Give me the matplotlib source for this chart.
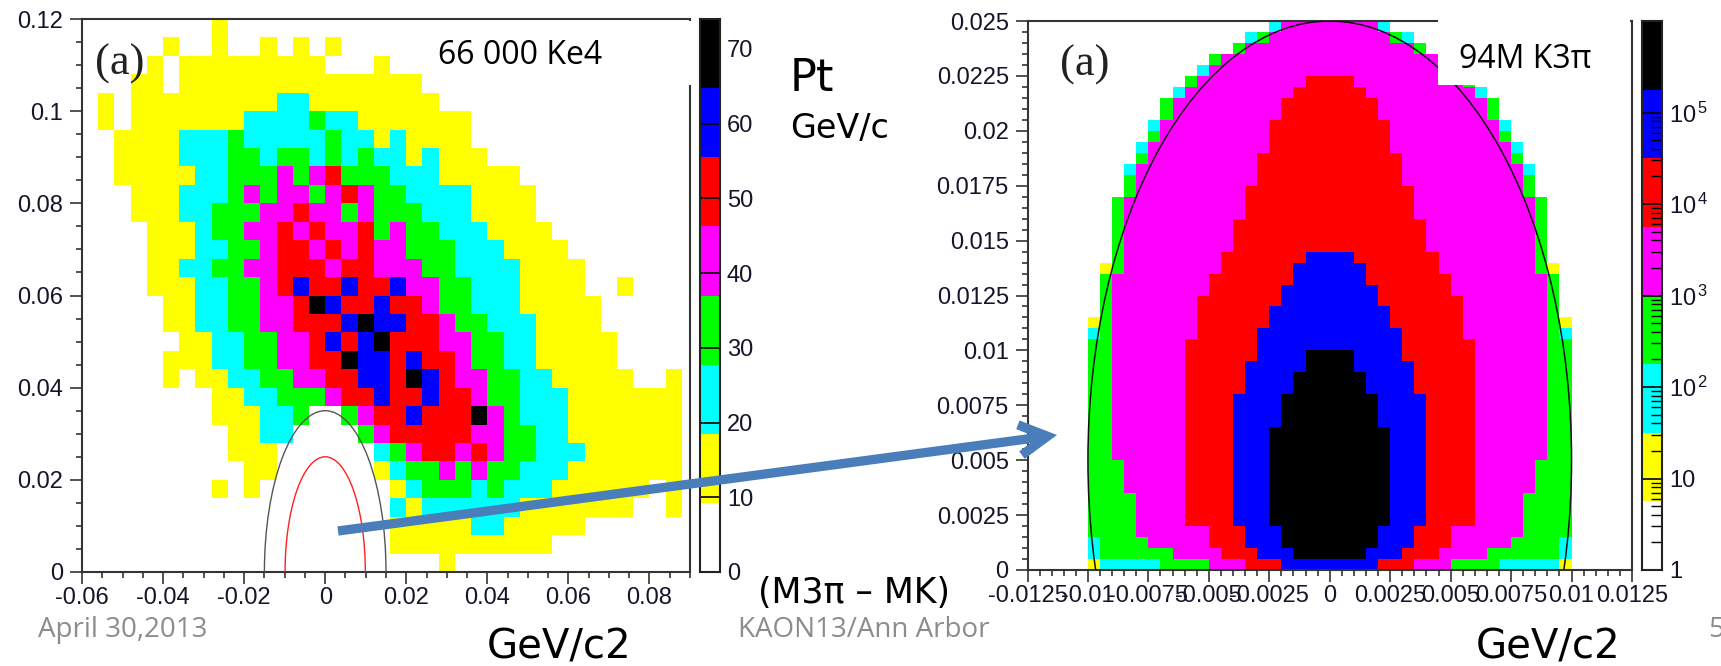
import numpy as np
import matplotlib
matplotlib.use('Agg')
import matplotlib.pyplot as plt
from matplotlib.colors import ListedColormap, BoundaryNorm
from matplotlib.patches import Ellipse, Rectangle, FancyArrowPatch
from matplotlib.ticker import MultipleLocator, FixedLocator, NullFormatter, LogLocator

plt.rcParams['font.family'] = ['Liberation Sans', 'DejaVu Sans']
plt.rcParams['mathtext.fontset'] = 'custom'
plt.rcParams['mathtext.rm'] = 'Liberation Sans'
plt.rcParams['mathtext.it'] = 'Liberation Sans:italic'

W, H = 1721, 666

# ROOT-like 8 level palette
level_colors = ['#ffffff', '#ffff00', '#00ffff', '#00ff00',
                '#ff00ff', '#ff0000', '#0000ff', '#000000']

# ---------------- Left histogram: 66 000 Ke4 (levels per 0.004 x 0.004 cell) -------------
left_x_start = -0.06
left_y_start = 0.0
left_cell = 0.004
left_ncols = 38
left_nrows = 30
# rows from top (y = 0.116-0.12) to bottom (y = 0-0.004): (first column, level string)
left_rows = [
    (8, "1"),
    (5, "1..1..1.1.1"),
    (4, "1.111111111...1"),
    (3, "11.111111111111111"),
    (1, "1.1111111112211111111"),
    (1, "1.111111122223221111111"),
    (2, "1111222322222322121111"),
    (2, "11112223323323232212111"),
    (2, "1111122333434533322211111"),
    (3, "1112223434434543322221111"),
    (3, "1112233344544343332221111"),
    (4, "1112334454544534332221111"),
    (4, "11122334554545443332221111"),
    (4, "112233445554554443322221111"),
    (4, "111223345655655644332221111..1"),
    (5, "112233445765565543322211111"),
    (5, "112233445556766554332221111"),
    (6, "112233445656755544332211111"),
    (5, "1112233445576656554332211111"),
    (5, "1.112233445566576544332211111..1"),
    (8, "11223334556556554332221111111"),
    (8, "111223..345565557432221111111"),
    (9, "1122....34555554433221111111"),
    (9, "111......2345545433222111111"),
    (10, "11......1233434332221111111"),
    (8, "1.1........1233323222111111.1"),
    (19, "212222221111111..1"),
    (19, "111112211111"),
    (19, "1111111111"),
    (22, "1"),
]
left_step = 9.25
left_bounds = [0, 9.25, 18.5, 27.75, 37.0, 46.25, 55.5, 64.75, 74.0]
left_cbar_ticks = [0, 10, 20, 30, 40, 50, 60, 70]
left_xticks = [-0.06, -0.04, -0.02, 0, 0.02, 0.04, 0.06, 0.08]
left_xlabels = ['-0.06', '-0.04', '-0.02', '0', '0.02', '0.04', '0.06', '0.08']
left_yticks = [0, 0.02, 0.04, 0.06, 0.08, 0.1, 0.12]
left_ylabels = ['0', '0.02', '0.04', '0.06', '0.08', '0.1', '0.12']

# ---------------- Right histogram: 94M K3pi (half-widths in bins of each level, per row) ----
right_x_start = -0.01
right_cell = 0.0005
right_ncols = 40
right_nrows = 50
hw_yellow = [20,20,20,20,20,20,20,20,20,20, 20,20,20,20,20,20,20,20,20,20,
             20,20,20,19,19,19,19,19,18,18, 18,18,18,18,17,17,17,16,16,15,
             15,14,14,13,12,11,10,8,7,5]
hw_cyan = [19,20,20,20,20,20,20,20,20,20, 20,20,20,20,20,20,20,20,20,20,
           20,20,19,19,19,19,19,18,18,18, 18,18,18,18,17,17,17,16,16,15,
           15,14,14,13,12,11,10,8,7,5]
hw_green = [14,19,19,20,20,20,20,20,20,20, 20,20,20,20,20,20,20,20,20,20,
            20,19,19,19,19,19,19,18,18,18, 18,18,18,18,17,17,16,16,15,15,
            14,14,14,12,12,10,10,8,6,4]
hw_magenta = [10,13,15,16,16,16,16,17,17,17, 18,18,18,18,18,18,18,18,18,18,
              18,18,18,18,18,18,18,17,17,17, 17,17,17,17,16,16,16,15,15,14,
              14,13,13,12,11,10,9,7,5,4]
hw_red = [7,9,10,10,12,12,12,12,12,12, 12,12,12,12,12,12,12,12,12,12,
          12,11,11,11,11,10,10,9,9,8, 8,8,7,7,7,6,6,6,5,5,
          5,4,4,3,2,0,0,0,0,0]
hw_blue = [4,6,7,7,8,8,8,8,8,8, 8,8,8,8,8,8,7,7,7,6,
           6,6,5,5,4,4,3,3,2,0, 0,0,0,0,0,0,0,0,0,0,
           0,0,0,0,0,0,0,0,0,0]
hw_black = [0,3,4,4,5,5,5,5,5,5, 5,5,5,4,4,4,3,3,2,2,
            0,0,0,0,0,0,0,0,0,0, 0,0,0,0,0,0,0,0,0,0,
            0,0,0,0,0,0,0,0,0,0]
right_decades_per_level = 0.75
right_bounds = [1.0, 5.62, 31.6, 177.8, 1000.0, 5623.0, 31623.0, 177828.0, 1.0e6]
right_cbar_ticks = [1, 10, 100, 1000, 10000, 100000]
right_cbar_labels = ['1', '10', r'$10^{\,2}$', r'$10^{\,3}$', r'$10^{\,4}$', r'$10^{\,5}$']
right_xticks = [-0.0125, -0.01, -0.0075, -0.005, -0.0025, 0, 0.0025, 0.005, 0.0075, 0.01, 0.0125]
right_xlabels = ['-0.0125', '-0.01', '-0.0075', '-0.005', '-0.0025', '0',
                 '0.0025', '0.005', '0.0075', '0.01', '0.0125']
right_yticks = [0, 0.0025, 0.005, 0.0075, 0.01, 0.0125, 0.015, 0.0175, 0.02, 0.0225, 0.025]
right_ylabels = ['0', '0.0025', '0.005', '0.0075', '0.01', '0.0125', '0.015',
                 '0.0175', '0.02', '0.0225', '0.025']

# ---------------- build grids ----------------
left_vals = np.zeros((left_nrows, left_ncols))
for r, (c0, s) in enumerate(left_rows):
    for k, ch in enumerate(s):
        if ch != '.':
            left_vals[left_nrows - 1 - r, c0 + k] = (int(ch) + 0.5) * left_step
left_vals = np.ma.masked_equal(left_vals, 0)
xeL = left_x_start + left_cell * np.arange(left_ncols + 1)
yeL = left_y_start + left_cell * np.arange(left_nrows + 1)

right_lev = np.zeros((right_nrows, right_ncols), dtype=int)
half = right_ncols // 2
for lvl, hw in enumerate([hw_yellow, hw_cyan, hw_green, hw_magenta, hw_red, hw_blue, hw_black], start=1):
    for j, h in enumerate(hw):
        if h > 0:
            right_lev[j, half - h:half + h] = lvl
right_vals = np.ma.masked_equal(
    np.where(right_lev > 0, 10 ** (right_decades_per_level * (right_lev + 0.5)), 0.0), 0)
xeR = right_x_start + right_cell * np.arange(right_ncols + 1)
yeR = right_cell * np.arange(right_nrows + 1)

# ---------------- figure ----------------
fig = plt.figure(figsize=(W / 100, H / 100), dpi=100)

def rect(x0, y0, x1, y1):
    return [x0 / W, 1 - y1 / H, (x1 - x0) / W, (y1 - y0) / H]

def fpt(x, y):
    return (x / W, 1 - y / H)

axL = fig.add_axes(rect(82, 19, 690, 572))
caxL = fig.add_axes(rect(700, 19, 720, 572))
axR = fig.add_axes(rect(1027.5, 21, 1632, 570))
caxR = fig.add_axes(rect(1642, 21, 1662, 570))

cmap = ListedColormap(level_colors)
axL.pcolormesh(xeL, yeL, left_vals, cmap=cmap, norm=BoundaryNorm(left_bounds, cmap.N),
               shading='flat', antialiased=False)
axR.pcolormesh(xeR, yeR, right_vals, cmap=cmap, norm=BoundaryNorm(right_bounds, cmap.N),
               shading='flat', antialiased=False)

frame_col = '#333333'
lab_col = '#15152a'

def style_axes(ax):
    for s in ax.spines.values():
        s.set_color(frame_col)
        s.set_linewidth(1.5)
    ax.tick_params(which='both', direction='out', top=False, right=False,
                   color=frame_col, width=1.2)
    ax.tick_params(which='major', length=8.5, labelsize=17, labelcolor=lab_col)
    ax.tick_params(which='minor', length=4.3)
    ax.tick_params(axis='x', which='major', pad=2)
    ax.tick_params(axis='y', which='major', pad=5)

axL.set_xlim(-0.06, 0.09)
axL.set_ylim(0, 0.12)
axL.set_xticks(left_xticks)
axL.set_xticklabels(left_xlabels)
axL.set_yticks(left_yticks)
axL.set_yticklabels(left_ylabels)
axL.xaxis.set_minor_locator(MultipleLocator(0.005))
axL.yaxis.set_minor_locator(MultipleLocator(0.005))
style_axes(axL)

axR.set_xlim(-0.0125, 0.0125)
axR.set_ylim(0, 0.025)
axR.set_xticks(right_xticks)
axR.set_xticklabels(right_xlabels)
axR.set_yticks(right_yticks)
axR.set_yticklabels(right_ylabels)
axR.xaxis.set_minor_locator(MultipleLocator(0.0005))
axR.yaxis.set_minor_locator(MultipleLocator(0.0005))
style_axes(axR)

# kinematic boundary curves
axL.add_patch(Ellipse((0, 0), 0.030, 0.070, fill=False, ec='#555555', lw=1.0, zorder=3))
axL.add_patch(Ellipse((0, 0), 0.0198, 0.050, fill=False, ec='#ff2020', lw=1.0, zorder=3))
axR.add_patch(Ellipse((0, 0.005), 0.0200, 0.040, fill=False, ec='#111111', lw=1.1, zorder=3))

# colour palettes
for lo, hi, c in zip(left_bounds[:-1], left_bounds[1:], level_colors):
    caxL.axhspan(lo, hi, color=c, lw=0)
caxL.set_ylim(left_bounds[0], left_bounds[-1])
caxL.set_xlim(0, 1)
caxL.set_xticks([])
caxL.yaxis.tick_right()
caxL.set_yticks(left_cbar_ticks)
caxL.set_yticklabels([str(t) for t in left_cbar_ticks])
caxL.tick_params(axis='y', direction='in', length=14.4, width=1.2, color='black',
                 labelsize=17, labelcolor=lab_col, pad=5)

for lo, hi, c in zip(right_bounds[:-1], right_bounds[1:], level_colors):
    caxR.axhspan(lo, hi, color=c, lw=0)
caxR.set_yscale('log')
caxR.set_ylim(right_bounds[0], right_bounds[-1])
caxR.set_xlim(0, 1)
caxR.set_xticks([])
caxR.yaxis.tick_right()
caxR.yaxis.set_major_locator(FixedLocator(right_cbar_ticks))
caxR.set_yticklabels(right_cbar_labels)
caxR.yaxis.set_minor_locator(LogLocator(base=10, subs=np.arange(2, 10)))
caxR.yaxis.set_minor_formatter(NullFormatter())
caxR.tick_params(axis='y', which='major', direction='in', length=14.4, width=1.2,
                 color='black', labelsize=17, labelcolor=lab_col, pad=5)
caxR.tick_params(axis='y', which='minor', direction='in', length=8, width=1.0, color='black')

for cax in (caxL, caxR):
    for s in cax.spines.values():
        s.set_color('#222222')
        s.set_linewidth(1.5)

# white text boxes of the slide
fig.add_artist(Rectangle(fpt(430, 85), 267 / W, 64 / H, transform=fig.transFigure,
                         fc='white', ec='none', zorder=5))
fig.add_artist(Rectangle(fpt(1438, 85), 192 / W, 66 / H, transform=fig.transFigure,
                         fc='white', ec='none', zorder=5))

serif = ['Liberation Serif', 'DejaVu Serif']
calibri = ['Open Sans', 'DejaVu Sans']
hand = ['DejaVu Sans']

fig.text(*fpt(95, 75), '(a)', family=serif, fontsize=32, color='#222222', va='baseline', zorder=6)
fig.text(*fpt(1060, 76), '(a)', family=serif, fontsize=32, color='#222222', va='baseline', zorder=6)
fig.text(*fpt(438, 64), '66 000 Ke4', family=calibri, fontsize=23, color='black', va='baseline', zorder=6)
fig.text(*fpt(1459, 68), '94M K3π', family=calibri, fontsize=23, color='black', va='baseline', zorder=6)

fig.text(*fpt(790, 91), 'Pt', family=hand, fontsize=32, color='black', va='baseline', zorder=6)
fig.text(*fpt(790, 138), 'GeV/c', family=hand, fontsize=24, color='black', va='baseline', zorder=6)
fig.text(*fpt(758, 603), '(M3π – MK)', family=hand, fontsize=25, color='black', va='baseline', zorder=6)
fig.text(*fpt(487, 659), 'GeV/c2', family=hand, fontsize=29, color='black', va='baseline', zorder=6)
fig.text(*fpt(1476, 659), 'GeV/c2', family=hand, fontsize=29, color='black', va='baseline', zorder=6)

grey = '#8c8c8c'
fig.text(*fpt(38, 637), 'April 30,2013', family=calibri, fontsize=20, color=grey, va='baseline', zorder=6)
fig.text(*fpt(738, 637), 'KAON13/Ann Arbor', family=calibri, fontsize=20, color=grey, va='baseline', zorder=6)
fig.text(*fpt(1708, 637), '5', family=calibri, fontsize=20, color=grey, va='baseline', zorder=6)

arrow = FancyArrowPatch(fpt(338, 531), fpt(1057, 435), transform=fig.transFigure,
                        arrowstyle='->,head_length=20,head_width=11', mutation_scale=1,
                        lw=6.7, color='#4a7ebb', shrinkA=0, shrinkB=0,
                        capstyle='butt', joinstyle='miter', zorder=7)
fig.add_artist(arrow)

fig.savefig('out.png', dpi=100)
